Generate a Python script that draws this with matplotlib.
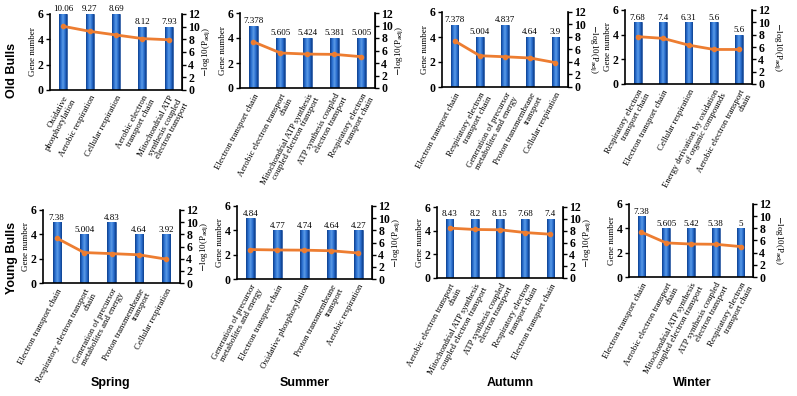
import matplotlib
matplotlib.use('Agg')
import matplotlib.pyplot as plt
import numpy as np
from matplotlib.colors import LinearSegmentedColormap

# ---- data: one block per panel (row: bull age, col: season) ----
old_spring_terms = ['Oxidative\nphosphorylation', 'Aerobic respiration', 'Cellular respiration',
                    'Aerobic electron\ntransport chain',
                    'Mitochondrial ATP\nsynthesis coupled\nelectron transport']
old_spring_genes = [6, 6, 6, 5, 5]
old_spring_logp = [10.06, 9.27, 8.69, 8.12, 7.93]
old_spring_lbl = ['10.06', '9.27', '8.69', '8.12', '7.93']

old_summer_terms = ['Electron transport chain', 'Aerobic electron transport\nchain',
                    'Mitochondrial ATP synthesis\ncoupled electron transport',
                    'ATP synthesis coupled\nelectron transport', 'Respiratory electron\ntransport chain']
old_summer_genes = [5, 4, 4, 4, 4]
old_summer_logp = [7.378, 5.605, 5.424, 5.381, 5.005]
old_summer_lbl = ['7.378', '5.605', '5.424', '5.381', '5.005']

old_autumn_terms = ['Electron transport chain', 'Respiratory electron\ntransport chain',
                    'Generation of precursor\nmetabolites and energy',
                    'Proton transmembrane\ntransport', 'Cellular respiration']
old_autumn_genes = [5, 4, 5, 4, 4]
old_autumn_logp = [7.378, 5.004, 4.837, 4.64, 3.9]
old_autumn_lbl = ['7.378', '5.004', '4.837', '4.64', '3.9']

old_winter_terms = ['Respiratory electron\ntransport chain', 'Electron transport chain',
                    'Cellular respiration',
                    'Energy derivation by oxidation\nof organic compounds',
                    'Aerobic electron transport\nchain']
old_winter_genes = [5, 5, 5, 5, 4]
old_winter_logp = [7.68, 7.4, 6.31, 5.6, 5.6]
old_winter_lbl = ['7.68', '7.4', '6.31', '5.6', '5.6']

young_spring_terms = ['Electron transport chain', 'Respiratory electron transport\nchain',
                      'Generation of precursor\nmetabolites and energy',
                      'Proton transmembrane\ntransport', 'Cellular respiration']
young_spring_genes = [5, 4, 5, 4, 4]
young_spring_logp = [7.38, 5.004, 4.83, 4.64, 3.92]
young_spring_lbl = ['7.38', '5.004', '4.83', '4.64', '3.92']

young_summer_terms = ['Generation of precursor\nmetabolites and energy', 'Electron transport chain',
                      'Oxidative phosphorylation', 'Proton transmembrane\ntransport',
                      'Aerobic respiration']
young_summer_genes = [5, 4, 4, 4, 4]
young_summer_logp = [4.84, 4.77, 4.74, 4.64, 4.27]
young_summer_lbl = ['4.84', '4.77', '4.74', '4.64', '4.27']

young_autumn_terms = ['Aerobic electron transport\nchain',
                      'Mitochondrial ATP synthesis\ncoupled electron transport',
                      'ATP synthesis coupled\nelectron transport',
                      'Respiratory electron\ntransport chain', 'Electron transport chain']
young_autumn_genes = [5, 5, 5, 5, 5]
young_autumn_logp = [8.43, 8.2, 8.15, 7.68, 7.4]
young_autumn_lbl = ['8.43', '8.2', '8.15', '7.68', '7.4']

young_winter_terms = ['Electron transport chain', 'Aerobic electron transport\nchain',
                      'Mitochondrial ATP synthesis\ncoupled electron transport',
                      'ATP synthesis coupled\nelectron transport',
                      'Respiratory electron\ntransport chain']
young_winter_genes = [5, 4, 4, 4, 4]
young_winter_logp = [7.38, 5.605, 5.42, 5.38, 5]
young_winter_lbl = ['7.38', '5.605', '5.42', '5.38', '5']

row_names = ['Old Bulls', 'Young Bulls']
col_names = ['Spring', 'Summer', 'Autumn', 'Winter']

panels = [
    (old_spring_terms, old_spring_genes, old_spring_logp, old_spring_lbl),
    (old_summer_terms, old_summer_genes, old_summer_logp, old_summer_lbl),
    (old_autumn_terms, old_autumn_genes, old_autumn_logp, old_autumn_lbl),
    (old_winter_terms, old_winter_genes, old_winter_logp, old_winter_lbl),
    (young_spring_terms, young_spring_genes, young_spring_logp, young_spring_lbl),
    (young_summer_terms, young_summer_genes, young_summer_logp, young_summer_lbl),
    (young_autumn_terms, young_autumn_genes, young_autumn_logp, young_autumn_lbl),
    (young_winter_terms, young_winter_genes, young_winter_logp, young_winter_lbl),
]

# axes boxes in pixels: left, right, top, bottom
boxes = [(50, 182, 14, 90), (240, 375, 13, 88), (442, 568, 12, 87), (625, 752, 10, 84),
         (43, 180, 210, 283), (237, 372, 206, 279), (437, 563, 207, 278), (629, 753, 204, 277)]
right_rot = [90, 90, 270, 270, 90, 90, 90, 270]

W, H = 797, 396
serif = 'Liberation Serif'
bar_cmap = LinearSegmentedColormap.from_list(
    'cyl', ['#0d3f8c', '#2a6fd0', '#5b9be6', '#2a6fd0', '#0d3f8c'])
grad = np.linspace(0, 1, 64).reshape(1, -1)

fig = plt.figure(figsize=(W / 100, H / 100), dpi=100)

for i, (terms, genes, logp, lbls) in enumerate(panels):
    l, r, t, b = boxes[i]
    ax = fig.add_axes([l / W, 1 - b / H, (r - l) / W, (b - t) / H])
    x = np.arange(len(terms))
    bars = ax.bar(x, genes, width=0.3, color='#1f5cb8', edgecolor='#0d3f8c', linewidth=0.4, zorder=2)
    for bar in bars:
        x0 = bar.get_x()
        im = ax.imshow(grad, extent=[x0, x0 + bar.get_width(), 0, bar.get_height()],
                       aspect='auto', cmap=bar_cmap, zorder=2.5)
        im.set_clip_path(bar)
    for xi, g, s in zip(x, genes, lbls):
        ax.text(xi, g + 0.05, s, ha='center', va='bottom', fontsize=6.5, family=serif)
    ax.set_xlim(-0.5, len(terms) - 0.5)
    ax.set_ylim(0, 6)
    ax.set_yticks([0, 2, 4, 6])
    ax.set_xticks(x)
    ax.set_xticklabels(terms, rotation=62, ha='right', rotation_mode='anchor',
                       fontsize=6.3, family=serif, linespacing=1.0)
    ax.tick_params(axis='x', length=0, pad=3)
    ax.tick_params(axis='y', labelsize=8.5, length=3, width=1, pad=1.5)
    for tl in ax.get_yticklabels():
        tl.set_family(serif)
        tl.set_fontweight('bold')
    ax.set_ylabel('Gene number', family=serif, fontsize=6.5, labelpad=0.5)
    ax.spines['top'].set_visible(False)
    ax.spines['left'].set_linewidth(1.2)
    ax.spines['bottom'].set_linewidth(1.2)

    ax2 = ax.twinx()
    ax2.plot(x, logp, color='#ed7d31', lw=2, marker='o', ms=3, zorder=3)
    ax2.set_ylim(0, 12)
    ax2.set_yticks(range(0, 13, 2))
    ax2.tick_params(axis='y', labelsize=8.5, length=3, width=1, pad=1.5)
    for tl in ax2.get_yticklabels():
        tl.set_family(serif)
        tl.set_fontweight('bold')
    ax2.set_ylabel(r'$-$log10(P$_{\mathrm{adj}}$)', family=serif, fontsize=6.5,
                   rotation=right_rot[i], labelpad=0.5,
                   va='top' if right_rot[i] == 90 else 'bottom')
    ax2.spines['top'].set_visible(False)
    ax2.spines['right'].set_linewidth(1.2)
    ax2.spines['left'].set_visible(False)
    ax2.spines['bottom'].set_visible(False)

# row and column titles
fig.text(12 / W, 1 - 70 / H, row_names[0], rotation=90, ha='center', va='center',
         fontsize=9, fontweight='bold', family='Liberation Sans')
fig.text(12 / W, 1 - 258 / H, row_names[1], rotation=90, ha='center', va='center',
         fontsize=9, fontweight='bold', family='Liberation Sans')
for cx, name in zip([110, 305, 510, 692], col_names):
    fig.text(cx / W, 1 - 383 / H, name, ha='center', va='center',
             fontsize=9, fontweight='bold', family='Liberation Sans')

fig.savefig('out.png', dpi=100)
